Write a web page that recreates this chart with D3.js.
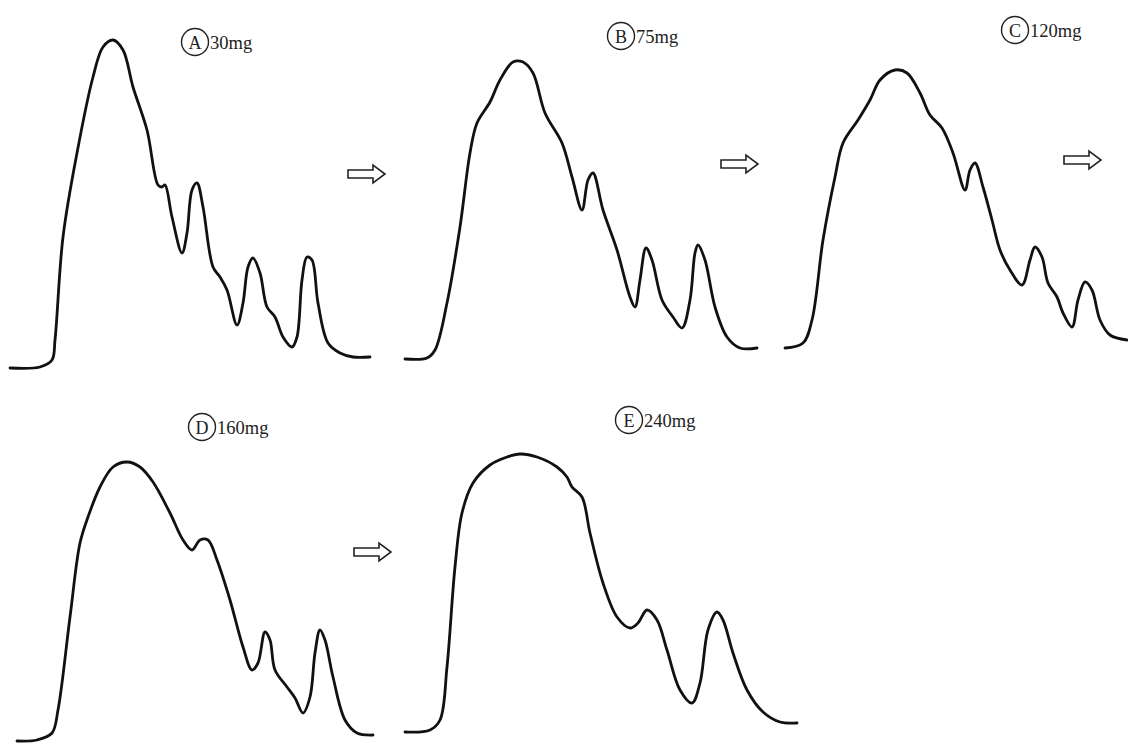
<!DOCTYPE html>
<html>
<head>
<meta charset="utf-8">
<script src="https://cdn.jsdelivr.net/npm/d3@7"></script>
<style>
  html, body { margin: 0; padding: 0; background: #fff; }
  svg { display: block; }
</style>
</head>
<body>
<svg id="chart" width="1128" height="744"></svg>
<script>
// ---- Data (retention time units, detector signal units) ----
const panelIds = ["A", "B", "C", "D", "E"];
const doseLabels = ["30mg", "75mg", "120mg", "160mg", "240mg"];

const timeA = [0,30,42,45,53,67,83,93,103,113,123,137,148,152,155,162,172,177,182,187,193,203,210,217,227,233,238,243,250,257,265,273,282,287,292,297,302,308,318,330,343,360];
const signalA = [2,3,10,30,133,217,293,323,330,320,283,240,185,183,185,153,117,137,180,187,163,103,93,80,45,67,103,112,97,63,53,33,23,33,90,113,110,67,27,17,13,13];

const timeB = [0,22,30,42,55,65,72,85,95,108,118,128,140,157,167,177,183,188,198,212,225,230,235,241,247,257,268,277,285,290,293,300,310,322,335,352];
const signalB = [3,4,12,59,135,209,239,260,282,300,300,289,249,219,185,152,182,189,152,112,65,55,82,114,102,62,45,34,62,109,117,102,55,25,14,14];

const timeC = [0,18,27,38,50,58,73,85,95,110,122,135,145,157,168,180,185,190,198,207,215,225,237,245,250,257,263,272,278,287,293,300,307,315,325,342];
const signalC = [2,7,30,110,173,207,230,250,270,280,277,257,235,222,197,160,180,187,163,130,100,80,65,90,103,93,67,53,37,23,50,68,60,30,15,10];

const timeD = [2,22,37,43,55,65,73,85,98,112,125,138,155,168,177,185,193,202,215,228,237,243,250,255,260,272,280,288,295,300,305,310,318,330,342,358];
const signalD = [2,3,10,33,126,200,226,256,276,281,276,261,230,203,193,203,203,183,143,96,73,80,111,103,73,56,45,30,46,90,113,103,66,23,10,8];

const timeE = [0,25,35,42,50,57,68,85,102,115,132,152,162,167,177,185,198,212,225,233,242,252,262,275,287,295,303,312,318,328,342,358,375,392];
const signalE = [3,5,15,68,168,222,252,270,278,281,278,268,258,248,238,202,152,118,107,112,125,115,85,45,32,52,105,123,115,82,45,23,13,12];

const times = [timeA, timeB, timeC, timeD, timeE];
const signals = [signalA, signalB, signalC, signalD, signalE];

// ---- Layout (positions only) ----
const panelOrigin = [
  {x: 10,  y: 370},
  {x: 405, y: 362},
  {x: 785, y: 350},
  {x: 15,  y: 743},
  {x: 405, y: 735}
];
const labelPos = [
  {cx: 195, cy: 42},
  {cx: 621, cy: 36},
  {cx: 1015, cy: 30},
  {cx: 202, cy: 427},
  {cx: 629, cy: 420}
];
const arrowPos = [
  {x: 348, y: 174},
  {x: 721, y: 164},
  {x: 1064, y: 160},
  {x: 354, y: 552}
];

const svg = d3.select("#chart");
svg.append("rect").attr("width", 1128).attr("height", 744).attr("fill", "#fff");

panelIds.forEach((id, i) => {
  const o = panelOrigin[i];
  const x = d3.scaleLinear().domain([0, 400]).range([o.x, o.x + 400]);
  const y = d3.scaleLinear().domain([0, 340]).range([o.y, o.y - 340]);
  const pts = times[i].map((t, k) => [t, signals[i][k]]);
  const line = d3.line()
    .x(d => x(d[0]))
    .y(d => y(d[1]))
    .curve(d3.curveCatmullRom.alpha(0.5));
  svg.append("path")
    .datum(pts)
    .attr("d", line)
    .attr("fill", "none")
    .attr("stroke", "#111")
    .attr("stroke-width", 2.8)
    .attr("stroke-linejoin", "round")
    .attr("stroke-linecap", "round");

  const lp = labelPos[i];
  const g = svg.append("g");
  g.append("circle")
    .attr("cx", lp.cx).attr("cy", lp.cy).attr("r", 13.5)
    .attr("fill", "none").attr("stroke", "#222").attr("stroke-width", 1.4);
  g.append("text")
    .attr("x", lp.cx).attr("y", lp.cy + 6.5)
    .attr("text-anchor", "middle")
    .attr("font-family", "Liberation Serif, 'Times New Roman', serif")
    .attr("font-size", 18)
    .attr("fill", "#222")
    .text(id);
  g.append("text")
    .attr("x", lp.cx + 15).attr("y", lp.cy + 6.5)
    .attr("font-family", "Liberation Serif, 'Times New Roman', serif")
    .attr("font-size", 18.5)
    .attr("fill", "#222")
    .text(doseLabels[i]);
});

// Block arrows between panels
arrowPos.forEach(a => {
  const w = 37, shaftH = 4, headH = 9, headW = 12;
  const path = d3.path();
  path.moveTo(a.x, a.y - shaftH);
  path.lineTo(a.x + w - headW, a.y - shaftH);
  path.lineTo(a.x + w - headW, a.y - headH);
  path.lineTo(a.x + w, a.y);
  path.lineTo(a.x + w - headW, a.y + headH);
  path.lineTo(a.x + w - headW, a.y + shaftH);
  path.lineTo(a.x, a.y + shaftH);
  path.closePath();
  svg.append("path")
    .attr("d", path.toString())
    .attr("fill", "#fff")
    .attr("stroke", "#222")
    .attr("stroke-width", 1.6)
    .attr("stroke-linejoin", "miter");
});
</script>
</body>
</html>
